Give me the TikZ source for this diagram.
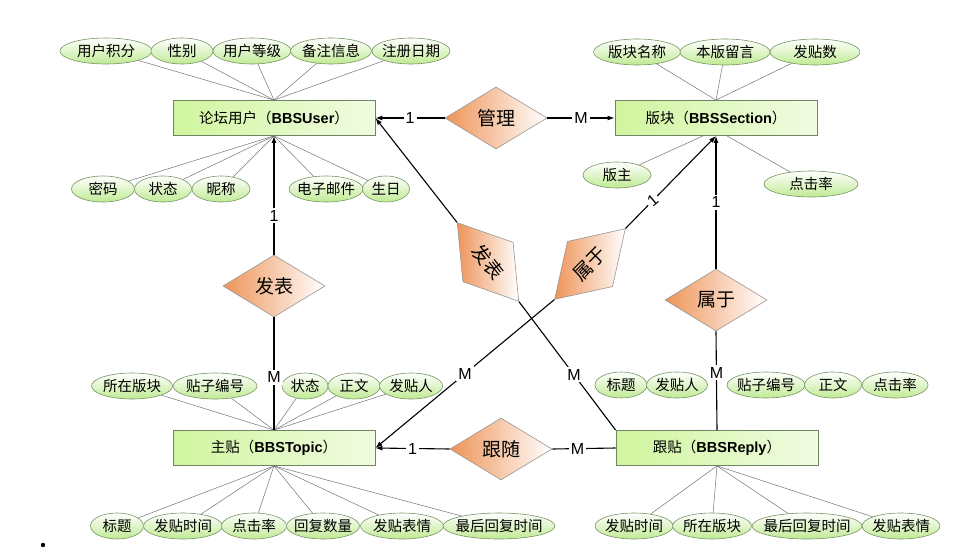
\documentclass[tikz,border=0pt]{standalone}
\usepackage{fontspec}
\setmainfont{Noto Sans CJK SC}
\newfontfamily\lat{Liberation Sans}
\usepackage{tikz}
\usetikzlibrary{arrows.meta,positioning,shapes.geometric}

\definecolor{boxgreen}{RGB}{208,245,158}
\definecolor{boxline}{RGB}{112,132,100}
\definecolor{attrgreen}{RGB}{192,234,148}
\definecolor{attrline}{RGB}{120,150,100}
\definecolor{relorange}{RGB}{238,148,88}
\definecolor{relline}{RGB}{150,150,150}

\tikzset{
  entity/.style={rectangle, draw=boxline, line width=0.8pt, left color=boxgreen,
    right color=boxgreen!30!white, minimum width=202, minimum height=35,
    font=\fontsize{14.5}{16}\selectfont},
  attr/.style={ellipse, draw=attrline, line width=0.6pt, top color=white,
    bottom color=attrgreen, inner sep=0pt, minimum height=26,
    font=\fontsize{14.5}{16}\selectfont},
  rel/.style={diamond, draw=relline, line width=0.6pt, left color=relorange,
    right color=white, inner sep=0pt, minimum width=102, minimum height=62,
    font=\fontsize{19}{22}\selectfont},
  conn/.style={line width=1.1pt, black},
  attrline/.style={line width=0.5pt, black!55},
  card/.style={fill=white, inner sep=2pt, font=\lat\fontsize{16}{18}\selectfont},
  >={Latex[length=7pt,width=5pt]}
}

\begin{document}
\begin{tikzpicture}[x=1pt,y=-1pt]
\useasboundingbox (0,0) rectangle (956,557);

\node[entity] (user) at (274,118) {论坛用户（{\lat\bfseries BBSUser}）};
\node[entity] (section) at (716,118) {版块（{\lat\bfseries BBSSection}）};
\node[entity] (topic) at (274,448) {主贴（{\lat\bfseries BBSTopic}）};
\node[entity] (reply) at (717,448) {跟贴（{\lat\bfseries BBSReply}）};

\node[rel] (manage) at (496,118) {管理};
\node[rel] (post) at (274,286) {发表};
\node[rel] (belong) at (716,300) {属于};
\node[rel] (follow) at (501,449) {跟随};
\node[rel, minimum width=100, minimum height=64, rotate=-52] (post2) at (488,262) {发表};
\node[rel, minimum width=100, minimum height=64, rotate=45] (belong2) at (590,264) {属于};

% attributes
\foreach \t/\x/\w in {用户积分/106/92,性别/182/62,用户等级/252/78,备注信息/331/81,注册日期/411/78}{
  \node[attr, minimum width=\w] (ut\x) at (\x,51) {\makebox[0pt]{\t}};
  \draw[attrline] (ut\x) -- (user.north);
}
\foreach \t/\x/\w in {密码/103/63,状态/163/57,昵称/221/58,电子邮件/326/74,生日/386/47}{
  \node[attr, minimum width=\w] (ub\x) at (\x,189) {\makebox[0pt]{\t}};
  \draw[attrline] (ub\x) -- (user.south);
}
\foreach \t/\x/\w in {版块名称/637/87,本版留言/725/90,发贴数/815/90}{
  \node[attr, minimum width=\w] (st\x) at (\x,52) {\makebox[0pt]{\t}};
  \draw[attrline] (st\x) -- (section.north);
}
\node[attr, minimum width=68] (master) at (617,175) {\makebox[0pt]{版主}};
\node[attr, minimum width=94] (sclick) at (811,184) {\makebox[0pt]{点击率}};
\draw[attrline] (master) -- ([xshift=-13pt]section.south);
\draw[attrline] (sclick) -- ([xshift=11pt]section.south);

\foreach \t/\x/\w in {所在版块/132/81,贴子编号/215/84,状态/305/46,正文/354/52,发贴人/411/63}{
  \node[attr, minimum width=\w] (tt\x) at (\x,386) {\makebox[0pt]{\t}};
  \draw[attrline] (tt\x) -- (topic.north);
}
\foreach \t/\x/\w in {标题/117/53,发贴时间/183/79,点击率/254/65,回复数量/323/73,发贴表情/402/83,最后回复时间/499/112}{
  \node[attr, minimum width=\w] (tb\x) at (\x,526) {\makebox[0pt]{\t}};
  \draw[attrline] (tb\x) -- (topic.south);
}
\foreach \t/\x/\w in {标题/621/52,发贴人/677/61,贴子编号/766/78,正文/833/57,点击率/895/66}{
  \node[attr, minimum width=\w] (rt\x) at (\x,385) {\makebox[0pt]{\t}};
}
\foreach \t/\x/\w in {发贴时间/634/78,所在版块/712/79,最后回复时间/807/110,发贴表情/901/78}{
  \node[attr, minimum width=\w] (rb\x) at (\x,526) {\makebox[0pt]{\t}};
  \draw[attrline] (rb\x) -- (reply.south);
}

% relationships
\draw[conn,->] (manage.west) -- node[card]{1} (user.east);
\draw[conn,->] (manage.east) -- node[card]{M} (section.west);
\draw[conn,->] (post.north) -- node[card,pos=0.33]{1} (user.south);
\draw[conn] (post.south) -- node[card,pos=0.53]{M} (topic.north);
\draw[conn,->] (belong.north) -- node[card]{1} (section.south);
\draw[conn] (belong.south) -- node[card,pos=0.42]{M} (reply.north);
\draw[conn,->] (follow.west) -- node[card]{1} (topic.east);
\draw[conn] (follow.east) -- node[card,pos=0.4]{M} (reply.west);
\draw[conn,->] (post2.west) -- (user.east);
\draw[conn] (post2.east) -- node[card,pos=0.57]{M} (reply.north west);
\draw[conn,->] (belong2.west) -- node[card]{M} (topic.east);
\draw[conn,->] (belong2.east) -- node[card,pos=0.3,rotate=40]{1} (section.south);

\fill (43,545) circle (2.2pt);
\end{tikzpicture}
\end{document}
